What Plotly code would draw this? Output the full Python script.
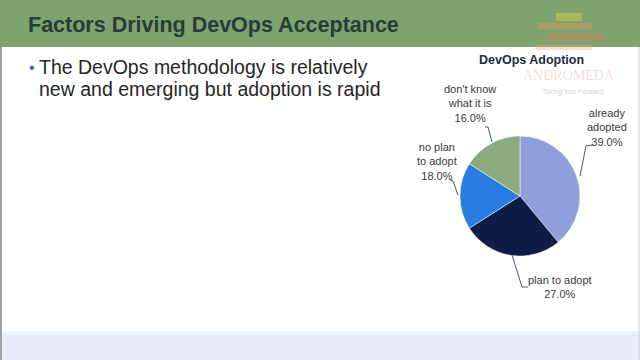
import plotly.graph_objects as go

W, H = 640, 360

# ---- data ----
categories = ["already adopted", "plan to adopt", "no plan to adopt", "don't know what it is"]
label_text = ["already<br>adopted", "plan to adopt", "no plan<br>to adopt", "don't know<br>what it is"]
values = [39.0, 27.0, 18.0, 16.0]
colors = ["#8e9fdb", "#0d1d45", "#2b7ce2", "#8bab7e"]

slide_title = "Factors Driving DevOps Acceptance"
bullet_lines = ["The DevOps methodology is relatively", "new and emerging but adoption is rapid"]
chart_title = "DevOps Adoption"


def px(x):
    return x / W


def py(y):
    return 1 - y / H


cx, cy, r = 520, 196, 60

fig = go.Figure()
fig.add_trace(go.Pie(
    labels=categories,
    values=values,
    sort=False,
    direction="clockwise",
    rotation=0,
    marker=dict(colors=colors, line=dict(color="rgba(255,255,255,0.6)", width=0.8)),
    textinfo="none",
    hoverinfo="label+percent",
    showlegend=False,
    domain=dict(x=[px(cx - r), px(cx + r)], y=[py(cy + r), py(cy - r)]),
))

shapes = []
# slide header band
shapes.append(dict(type="rect", xref="paper", yref="paper", x0=0, x1=1, y0=py(47), y1=1,
                   fillcolor="#7ea36d", line=dict(width=0), layer="below"))
# bottom band
shapes.append(dict(type="rect", xref="paper", yref="paper", x0=0, x1=1, y0=0, y1=py(334),
                   fillcolor="#e6eef9", line=dict(width=0), layer="below"))
shapes.append(dict(type="rect", xref="paper", yref="paper", x0=0, x1=1, y0=py(334), y1=py(331),
                   fillcolor="#f1f5fb", line=dict(width=0), layer="below"))
# left/right slide borders
shapes.append(dict(type="line", xref="paper", yref="paper", x0=px(1), x1=px(1), y0=0, y1=py(47),
                   line=dict(color="#a0a0a0", width=2)))
shapes.append(dict(type="line", xref="paper", yref="paper", x0=px(639), x1=px(639), y0=0, y1=py(47),
                   line=dict(color="#d0d0d0", width=1)))
# logo stripes (faint)
for (x0, x1, y0, y1, c) in [
    (556, 582, 13, 21, "rgba(210,205,80,0.5)"),
    (538, 592, 23, 29, "rgba(222,150,95,0.5)"),
    (547, 603, 34, 40, "rgba(218,125,85,0.5)"),
    (536, 592, 45, 50, "rgba(240,175,130,0.4)"),
]:
    shapes.append(dict(type="rect", xref="paper", yref="paper", x0=px(x0), x1=px(x1),
                       y0=py(y1), y1=py(y0), fillcolor=c, line=dict(width=0), layer="above"))

# leader lines
leaders = [
    [(592, 145), (586, 146), (580, 176)],
    [(528, 287), (522, 287), (512, 255)],
    [(450, 180), (453, 181), (458, 195)],
    [(485, 127), (488, 127), (492, 142)],
]
for pts in leaders:
    path = "M " + " L ".join(f"{px(x)},{py(y)}" for x, y in pts)
    shapes.append(dict(type="path", xref="paper", yref="paper", path=path,
                       line=dict(color="#4a5a7a", width=1)))

annotations = []
annotations.append(dict(text=f"<b>{slide_title}</b>", x=px(26), y=py(25), xref="paper", yref="paper",
                        xanchor="left", yanchor="middle", showarrow=False,
                        font=dict(family="Liberation Sans, Arial", size=21.5, color="#283d3a")))
annotations.append(dict(text="•", x=px(27), y=py(67), xref="paper", yref="paper",
                        xanchor="left", yanchor="middle", showarrow=False,
                        font=dict(family="Liberation Sans, Arial", size=16, color="#3b5fc8")))
for i, line in enumerate(bullet_lines):
    annotations.append(dict(text=line, x=px(37), y=py(67 + 22 * i), xref="paper", yref="paper",
                            xanchor="left", yanchor="middle", showarrow=False,
                            font=dict(family="Liberation Sans, Arial", size=19.5, color="#262626")))
annotations.append(dict(text=f"<b>{chart_title}</b>", x=px(531), y=py(60), xref="paper", yref="paper",
                        xanchor="center", yanchor="middle", showarrow=False,
                        font=dict(family="Liberation Sans, Arial", size=12.5, color="#1f2a44")))
# watermark
annotations.append(dict(text="ANDROMEDA", x=px(569), y=py(75), xref="paper", yref="paper",
                        xanchor="center", yanchor="middle", showarrow=False,
                        font=dict(family="Liberation Serif, Times New Roman", size=14,
                                  color="rgba(200,90,90,0.22)")))
annotations.append(dict(text="Taking You Forward", x=px(573), y=py(92), xref="paper", yref="paper",
                        xanchor="center", yanchor="middle", showarrow=False,
                        font=dict(family="Liberation Sans, Arial", size=7, color="rgba(150,150,170,0.45)")))

# slice labels
label_pos = [(607, 127), (560, 287), (437, 162), (470, 104)]
for (lx, ly), t, v in zip(label_pos, label_text, values):
    annotations.append(dict(text=f"{t}<br>{v:.1f}%", x=px(lx), y=py(ly), xref="paper", yref="paper",
                            xanchor="center", yanchor="middle", showarrow=False, align="center",
                            font=dict(family="Liberation Sans, Arial", size=11, color="#3a3a3a")))

fig.update_layout(
    width=W, height=H,
    margin=dict(l=0, r=0, t=0, b=0),
    paper_bgcolor="white",
    plot_bgcolor="white",
    shapes=shapes,
    annotations=annotations,
)
fig.write_html("out.html", config={"displayModeBar": False},
               post_script="document.body.style.margin='0';document.body.style.overflow='hidden';")
